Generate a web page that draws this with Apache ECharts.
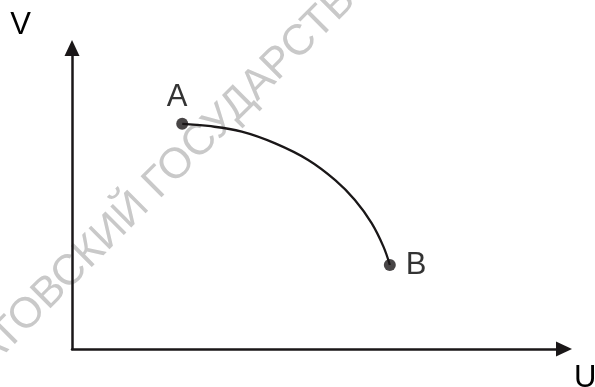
<!DOCTYPE html>
<html>
<head>
<meta charset="utf-8">
<script src="https://cdn.jsdelivr.net/npm/echarts@6/dist/echarts.min.js"></script>
<style>
    html, body { margin: 0; padding: 0; background: #fff; }
    #chart { width: 595px; height: 387px; }
</style>
</head>
<body>
<div id="chart"></div>
<script>
    // curve A -> B (axis units 0..100)
    const curveU = [22.4, 27.7, 34.5, 41.3, 48.0, 53.5, 57.5, 60.9, 63.3, 64.6];
    const curveV = [74.8, 74.1, 72.2, 68.3, 62.8, 56.1, 49.5, 41.8, 34.0, 27.9];
    const pointNames = ['A', 'B'];
    const pointU = [22.4, 64.6];
    const pointV = [74.8, 27.9];
    const axisNames = ['U', 'V'];
    const watermark = 'САРАТОВСКИЙ ГОСУДАРСТВЕННЫЙ';

    const ink = '#1a1718';
    const font = '"Liberation Sans", Arial, sans-serif';

    let chart = echarts.init(document.getElementById('chart'));
    const axisCommon = {
        type: 'value',
        min: 0,
        max: 100,
        axisLine: {
            show: true,
            symbol: ['none', 'triangle'],
            symbolSize: [15, 16],
            lineStyle: { color: ink, width: 2.5 }
        },
        axisTick: { show: false },
        axisLabel: { show: false },
        splitLine: { show: false },
        nameTextStyle: { color: '#000', fontSize: 31, fontFamily: font }
    };
    const option = {
        animation: false,
        backgroundColor: '#fff',
        grid: { left: 72, right: 31, top: 48, bottom: 38, outerBoundsMode: 'none', containLabel: false },
        graphic: [{
            type: 'text',
            x: -79,
            y: 421,
            rotation: Math.PI / 4,
            z: -10,
            style: {
                text: watermark,
                fill: '#c9c9c9',
                font: '43px ' + font,
                textAlign: 'left',
                textVerticalAlign: 'middle'
            }
        }],
        xAxis: Object.assign({}, axisCommon, {
            name: axisNames[0],
            nameLocation: 'end',
            nameGap: 10,
            nameTextStyle: Object.assign({}, axisCommon.nameTextStyle, {
                align: 'left', verticalAlign: 'top', padding: [14, 0, 0, 0]
            })
        }),
        yAxis: Object.assign({}, axisCommon, {
            name: axisNames[1],
            nameLocation: 'end',
            nameGap: 7,
            nameTextStyle: Object.assign({}, axisCommon.nameTextStyle, {
                align: 'right', verticalAlign: 'bottom', padding: [0, 41, 0, 0]
            })
        }),
        series: [
            {
                type: 'line',
                smooth: 0.4,
                symbol: 'none',
                lineStyle: { color: ink, width: 2.3 },
                data: curveU.map((u, i) => [u, curveV[i]]),
                z: 3
            },
            {
                type: 'scatter',
                symbolSize: 12,
                itemStyle: { color: ink },
                data: pointNames.map((n, i) => ({
                    name: n,
                    value: [pointU[i], pointV[i]],
                    label: i === 0
                        ? { position: 'top', distance: 5, offset: [-5, 0] }
                        : { position: 'right', distance: 10 }
                })),
                label: {
                    show: true,
                    formatter: '{b}',
                    color: '#000',
                    fontSize: 31,
                    fontFamily: font
                },
                z: 4
            }
        ]
    };
    chart.setOption(option);
</script>
</body>
</html>
